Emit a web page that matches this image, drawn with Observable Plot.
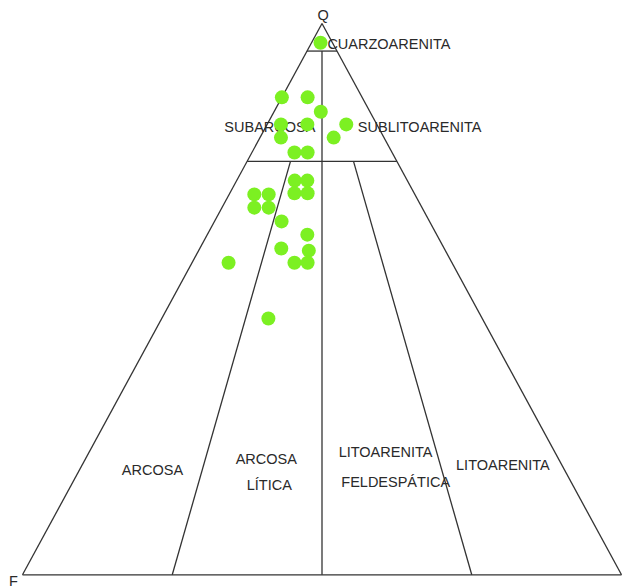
<!DOCTYPE html>
<html>
<head>
<meta charset="utf-8">
<script src="https://cdn.jsdelivr.net/npm/d3@7"></script>
<script src="https://cdn.jsdelivr.net/npm/@observablehq/plot@0.6"></script>
<style>
  html, body { margin: 0; padding: 0; background: #fff; }
  #chart svg { display: block; }
</style>
</head>
<body>
<div id="chart"></div>
<script>
// Modal composition of each sample, in % of quartz (Q), feldspar (F) and lithics (L)
const sampleQ = [96.6, 86.6, 86.6, 84.0, 81.7, 81.7, 81.7, 79.3, 79.3, 76.6, 76.6, 71.5, 71.5, 69.2,
                 69.2, 69.0, 69.0, 66.6, 66.6, 64.1, 61.7, 59.2, 58.8, 56.6, 56.6, 56.6, 46.5];
const sampleF = [ 2.0, 13.4,  9.1,  8.2, 16.0, 11.6,  5.1, 17.2,  8.4, 16.3, 14.1, 18.8, 16.7, 20.0,
                 17.8, 26.8, 24.4, 28.0, 25.6, 24.7, 21.6, 27.2, 22.8, 26.3, 24.1, 37.3, 35.7];
const sampleL = [ 1.5,  0.0,  4.3,  7.8,  2.3,  6.7, 13.2,  3.5, 12.3,  7.1,  9.3,  9.7, 11.8, 10.8,
                 13.0,  4.2,  6.6,  5.4,  7.8, 11.2, 16.7, 13.6, 18.4, 17.1, 19.3,  6.1, 17.8];

// Folk classification limits: quartz cut-offs and F:L ratios along the base
const quartzLimits = [95, 75];
const baseRatiosFL = [[75, 25], [50, 50], [25, 75]];

// Field names and vertex letters, with their anchor in the diagram plane
const labelText = ["Q", "F", "CUARZOARENITA", "SUBARCOSA", "SUBLITOARENITA", "ARCOSA",
                   "ARCOSA", "LÍTICA", "LITOARENITA", "FELDESPÁTICA", "LITOARENITA"];
const labelX = [0.502, -0.015, 0.509, 0.413, 0.663, 0.217, 0.407, 0.412, 0.606, 0.623, 0.802];
const labelY = [1.015, -0.0115, 0.962, 0.811, 0.811, 0.189, 0.209, 0.162, 0.222, 0.167, 0.198];
const labelAnchor = ["middle", "middle", "start", "middle", "middle", "middle",
                     "middle", "middle", "middle", "middle", "middle"];

// Ternary (Q, F, L) -> plane: F at (0,0), L at (1,0), Q at (0.5,1)
function toPlane([q, f, l]) {
  const s = q + f + l;
  return [(l + q / 2) / s, q / s];
}
const lerp3 = (a, b, t) => a.map((v, i) => v + (b[i] - v) * t);

// Boundary segments, in ternary compositions
const segments = [];
const apexQ = [100, 0, 0], cornerF = [0, 100, 0], cornerL = [0, 0, 100];
segments.push([apexQ, cornerF], [cornerF, cornerL], [cornerL, apexQ]);
for (const q of quartzLimits) {
  segments.push([[q, 100 - q, 0], [q, 0, 100 - q]]);
}
// F:L dividers hang from the base of the quartzarenite field
const qTop = quartzLimits[0], qMid = quartzLimits[1];
const hub = [qTop, (100 - qTop) / 2, (100 - qTop) / 2];
for (const [f, l] of baseRatiosFL) {
  const foot = [0, f, l];
  if (f === l) {
    segments.push([hub, foot]);
  } else {
    const t = (qTop - qMid) / qTop;
    segments.push([lerp3(hub, foot, t), foot]);
  }
}

const links = segments.map(([a, b]) => {
  const [x1, y1] = toPlane(a), [x2, y2] = toPlane(b);
  return {x1, y1, x2, y2};
});
const samples = sampleQ.map((q, i) => {
  const [x, y] = toPlane([q, sampleF[i], sampleL[i]]);
  return {x, y};
});
const labels = labelText.map((text, i) => ({text, x: labelX[i], y: labelY[i], anchor: labelAnchor[i]}));

const chart = Plot.plot({
  width: 623,
  height: 588,
  marginLeft: 22,
  marginRight: 2,
  marginTop: 23,
  marginBottom: 13.7,
  x: {domain: [0, 1], axis: null},
  y: {domain: [0, 1], axis: null},
  style: {fontFamily: "'Liberation Sans', Arial, sans-serif", background: "#fff"},
  marks: [
    Plot.link(links, {x1: "x1", y1: "y1", x2: "x2", y2: "y2", stroke: "#333", strokeWidth: 1.3}),
    Plot.text(labels.filter(d => d.anchor === "middle"), {x: "x", y: "y", text: "text",
      fill: "#2a2a2a", fontSize: 14.5, textAnchor: "middle"}),
    Plot.text(labels.filter(d => d.anchor === "start"), {x: "x", y: "y", text: "text",
      fill: "#2a2a2a", fontSize: 14.5, textAnchor: "start"}),
    Plot.dot(samples, {x: "x", y: "y", r: 7, fill: "#7cf022", stroke: "none"})
  ]
});
document.getElementById("chart").appendChild(chart);
</script>
</body>
</html>
